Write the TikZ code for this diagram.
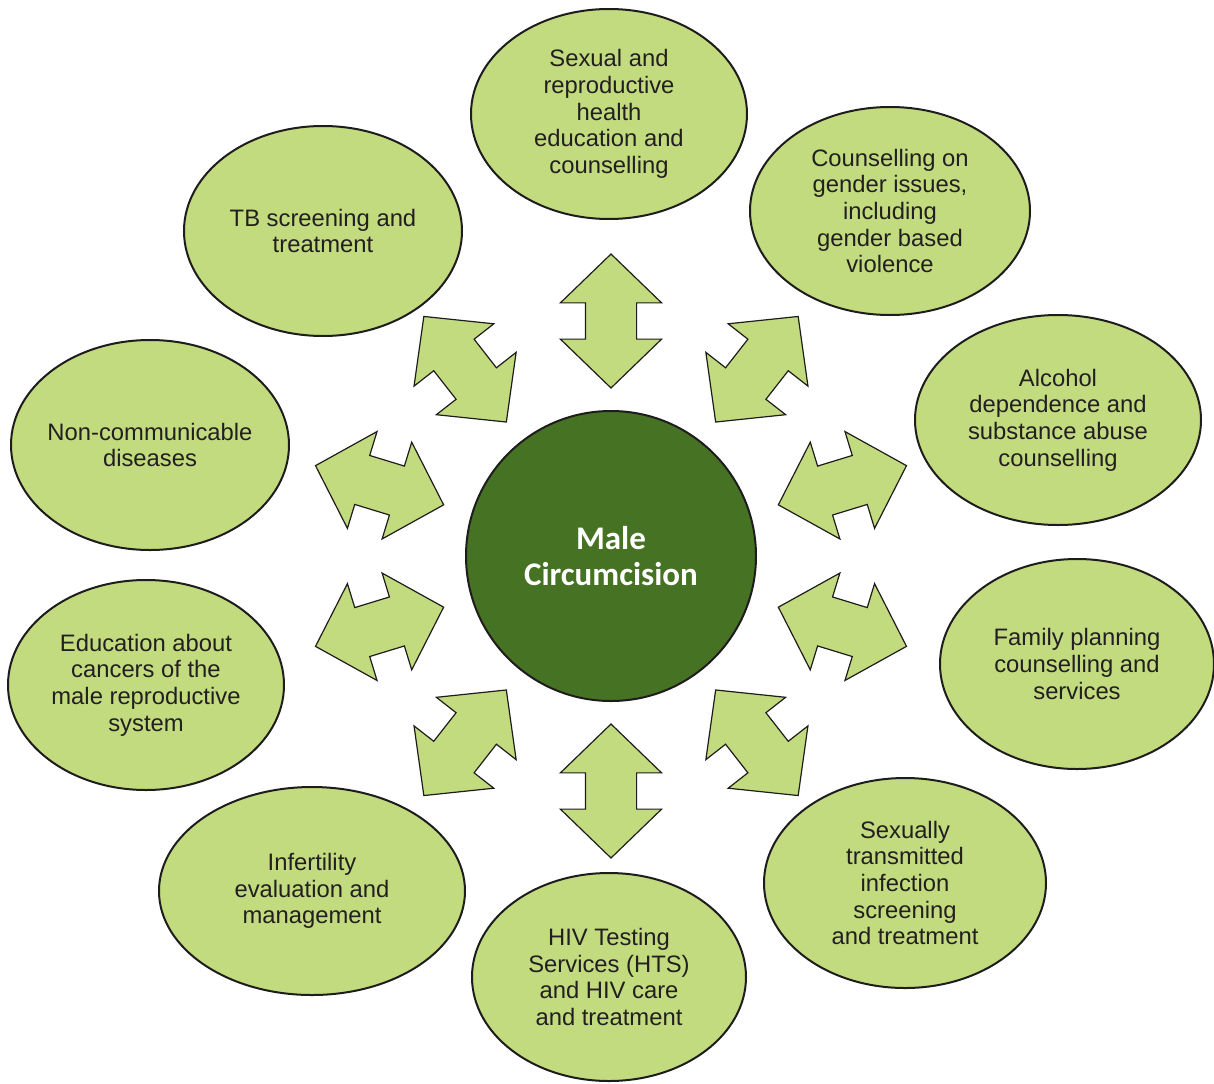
\documentclass[tikz,border=0pt]{standalone}
\usepackage{fontspec}
\setmainfont{Liberation Sans}
\newfontfamily\centrefont{Carlito}
\usepackage{tikz}
\usetikzlibrary{shapes.geometric,shapes.arrows}
\definecolor{mclight}{RGB}{194,219,127}
\definecolor{mcdark}{RGB}{70,114,35}
\definecolor{mcline}{RGB}{30,28,28}
\definecolor{mctext}{RGB}{35,31,32}

\begin{document}
\begin{tikzpicture}[x=0.5pt, y=0.5pt,
bubble/.style={ellipse, draw=mcline, line width=1pt, fill=mclight, text=mctext, align=center, inner xsep=-6pt, inner ysep=0pt, minimum width=139pt, minimum height=105pt, font=\fontsize{11.9}{13.3}\selectfont},
dblarrow/.style={double arrow, draw=mcline, line width=0.6pt, fill=mclight, inner xsep=0pt, inner ysep=12.5pt, double arrow head extend=12.5pt, double arrow tip angle=92, minimum width=50pt, minimum height=67pt}
]
\useasboundingbox (-611,-527) rectangle (603,556);

\node (mc) [circle, draw=mcline, line width=1pt, fill=mcdark, minimum size=145pt, text=white, align=center, font=\centrefont\bfseries\fontsize{16.5}{18.3}\selectfont] at (0,0) {Male\\Circumcision};

\node (srh) [bubble, minimum width=138pt] at (-2,442) {Sexual and\\reproductive\\health\\education and\\counselling};
\node (gbv) [bubble, minimum width=140pt, minimum height=104pt] at (279,345) {Counselling on\\gender issues,\\including\\gender based\\violence};
\node (alc) [bubble, minimum width=143pt] at (447,136) {Alcohol\\dependence and\\substance abuse\\counselling};
\node (fp) [bubble, minimum width=137pt] at (466,-108) {Family planning\\counselling and\\services};
\node (sti) [bubble, minimum width=141pt] at (294,-327) {Sexually\\transmitted\\infection\\screening\\and treatment};
\node (hiv) [bubble, minimum width=137pt, minimum height=104pt] at (-2,-421) {HIV Testing\\Services (HTS)\\and HIV care\\and treatment};
\node (inf) [bubble, minimum width=153pt, minimum height=104pt] at (-299,-335) {Infertility\\evaluation and\\management};
\node (canc) [bubble, minimum width=138pt] at (-465,-129) {Education about\\cancers of the\\male reproductive\\system};
\node (ncd) [bubble] at (-461,111) {Non-communicable\\diseases};
\node (tb) [bubble] at (-288,325) {TB screening and\\treatment};

% double arrows round the centre
\node (asrh) [dblarrow, rotate=90] at (90:235) {};
\node (agbv) [dblarrow, rotate=52] at (52:237) {};
\node (aalc) [dblarrow, rotate=17] at (17:242) {};
\node (afp) [dblarrow, rotate=-17] at (-17:242) {};
\node (asti) [dblarrow, rotate=-52] at (-52:237) {};
\node (ahiv) [dblarrow, rotate=-90] at (-90:235) {};
\node (ainf) [dblarrow, rotate=-128] at (-128:237) {};
\node (acanc) [dblarrow, rotate=-163] at (-163:242) {};
\node (ancd) [dblarrow, rotate=163] at (163:242) {};
\node (atb) [dblarrow, rotate=128] at (128:237) {};

\end{tikzpicture}
\end{document}
